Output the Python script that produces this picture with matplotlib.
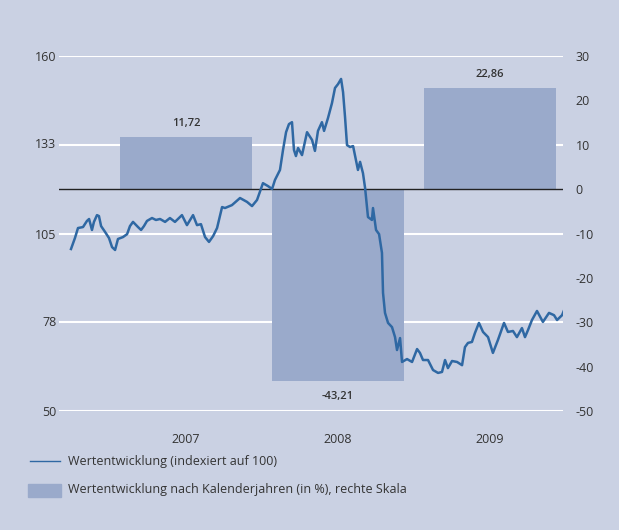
import matplotlib.pyplot as plt
import numpy as np

# Index line (indexed to 100), x in decimal years
line_x = [2006.743, 2006.769, 2006.789, 2006.822, 2006.848, 2006.862, 2006.881, 2006.894,
          2006.914, 2006.927, 2006.941, 2006.967, 2006.993, 2007.013, 2007.033, 2007.052,
          2007.085, 2007.112, 2007.131, 2007.151, 2007.184, 2007.204, 2007.223, 2007.243,
          2007.276, 2007.302, 2007.329, 2007.362, 2007.394, 2007.427, 2007.473, 2007.506,
          2007.546, 2007.572, 2007.598, 2007.625, 2007.651, 2007.678, 2007.704, 2007.737,
          2007.756, 2007.802, 2007.855, 2007.901, 2007.934, 2007.967, 2008.006, 2008.039,
          2008.066, 2008.085, 2008.118, 2008.138, 2008.158, 2008.177, 2008.197, 2008.210,
          2008.223, 2008.237, 2008.263, 2008.296, 2008.329, 2008.348, 2008.368, 2008.394,
          2008.408, 2008.434, 2008.460, 2008.480, 2008.500, 2008.520, 2008.533, 2008.546,
          2008.559, 2008.579, 2008.599, 2008.618, 2008.631, 2008.645, 2008.664, 2008.678,
          2008.697, 2008.723, 2008.730, 2008.750, 2008.770, 2008.789, 2008.796, 2008.809,
          2008.829, 2008.855, 2008.875, 2008.888, 2008.908, 2008.921, 2008.954, 2008.987,
          2009.020, 2009.039, 2009.059, 2009.092, 2009.125, 2009.158, 2009.184, 2009.204,
          2009.223, 2009.250, 2009.283, 2009.316, 2009.335, 2009.355, 2009.381, 2009.401,
          2009.427, 2009.454, 2009.487, 2009.519, 2009.552, 2009.592, 2009.618, 2009.651,
          2009.677, 2009.710, 2009.730, 2009.750, 2009.776, 2009.809, 2009.848, 2009.888,
          2009.921, 2009.941, 2009.974, 2009.993]
line_y = [100.2, 103.6, 106.7, 107.0, 108.9, 109.5, 106.1, 108.6,
          110.7, 110.4, 107.3, 105.5, 103.6, 100.8, 99.9, 103.3,
          103.9, 104.8, 107.3, 108.6, 107.0, 106.1, 107.3, 108.9,
          109.8, 109.2, 109.5, 108.6, 109.8, 108.6, 110.7, 107.6,
          110.7, 107.6, 107.9, 103.9, 102.4, 104.2, 106.7, 113.2,
          112.9, 113.8, 116.0, 114.8, 113.5, 115.4, 120.6, 119.7,
          118.8, 121.6, 124.7, 130.9, 136.4, 138.9, 139.5, 130.9,
          129.0, 131.5, 129.3, 136.4, 134.0, 130.6, 136.8, 139.5,
          136.8, 140.8, 145.4, 150.1, 151.3, 152.9, 148.8, 141.1,
          132.4, 131.8, 132.1, 127.8, 124.7, 127.2, 123.7, 119.1,
          110.1, 109.2, 112.9, 106.1, 104.8, 99.0, 86.6, 80.4,
          77.3, 76.0, 72.9, 68.9, 72.6, 65.2, 66.1, 65.2,
          69.2, 68.0, 65.8, 65.8, 62.7, 61.8, 62.1, 65.8,
          63.3, 65.5, 65.2, 64.2, 69.8, 71.1, 71.4, 74.2,
          77.3, 74.5, 72.9, 68.0, 72.0, 77.3, 74.5, 74.8,
          72.9, 75.7, 72.9, 75.1, 78.2, 81.0, 77.6, 80.4,
          79.7, 78.2, 79.7, 81.9]

# Calendar-year returns (%), right scale
years = [2007, 2008, 2009]
returns = [11.72, -43.21, 22.86]
return_labels = ["11,72", "-43,21", "22,86"]

bg = "#cad1e3"
bar_color = "#9aaacb"
line_color = "#2f68a3"
text_color = "#333333"

plt.rcParams['font.family'] = ['Open Sans', 'DejaVu Sans']
plt.rcParams['axes.unicode_minus'] = False

fig = plt.figure(figsize=(6.19, 5.30), dpi=100, facecolor=bg)
ax = fig.add_axes([0.0953, 0.2245, 0.8142, 0.6698])
ax.set_facecolor(bg)
ax2 = ax.twinx()

# bars on the right scale
bar_x = [y + 0.5 for y in years]
ax.bar(bar_x, returns, width=0.87, color=bar_color, zorder=2)
for gy in [30, 10, -10, -30, -50]:
    ax.axhline(gy, color="white", lw=1.5, zorder=1)
ax.axhline(0, color="#222222", lw=1.0, zorder=3)
for bx, r, lab in zip(bar_x, returns, return_labels):
    off = 3.0 if r > 0 else -3.6
    ax.text(bx, r + off, lab, ha="center", va="center", fontsize=8,
            color=text_color, fontweight="semibold")

ax.set_ylim(-50, 30)
ax.set_yticks(range(-50, 31, 10))
ax.yaxis.tick_right()
ax.set_xlim(2006.664, 2009.98)
ax.set_xticks(bar_x)
ax.set_xticklabels([str(y) for y in years])
ax.tick_params(length=0, labelsize=9, colors=text_color, pad=16)
ax.tick_params(axis="y", pad=9)
for s in ax.spines.values():
    s.set_visible(False)

# index line on the left scale
ax2.plot(line_x, line_y, color=line_color, lw=1.8, zorder=4)
ax2.set_ylim(50, 160)
ax2.set_yticks([50, 78, 105, 133, 160])
ax2.yaxis.tick_left()
ax2.tick_params(length=0, labelsize=9, colors=text_color, pad=2)
for s in ax2.spines.values():
    s.set_visible(False)

# legend
fig.lines.append(plt.Line2D([0.049, 0.097], [1 - 461 / 530] * 2, transform=fig.transFigure,
                            color=line_color, lw=1.0))
fig.patches.append(plt.Rectangle((0.045, 1 - 497 / 530), 0.053, 13 / 530,
                                 transform=fig.transFigure, color=bar_color))
fig.text(0.11, 1 - 461 / 530, "Wertentwicklung (indexiert auf 100)", va="center",
         fontsize=9, color=text_color)
fig.text(0.11, 1 - 490 / 530, "Wertentwicklung nach Kalenderjahren (in %), rechte Skala",
         va="center", fontsize=9, color=text_color)

fig.savefig("out.png", dpi=100, facecolor=bg)
